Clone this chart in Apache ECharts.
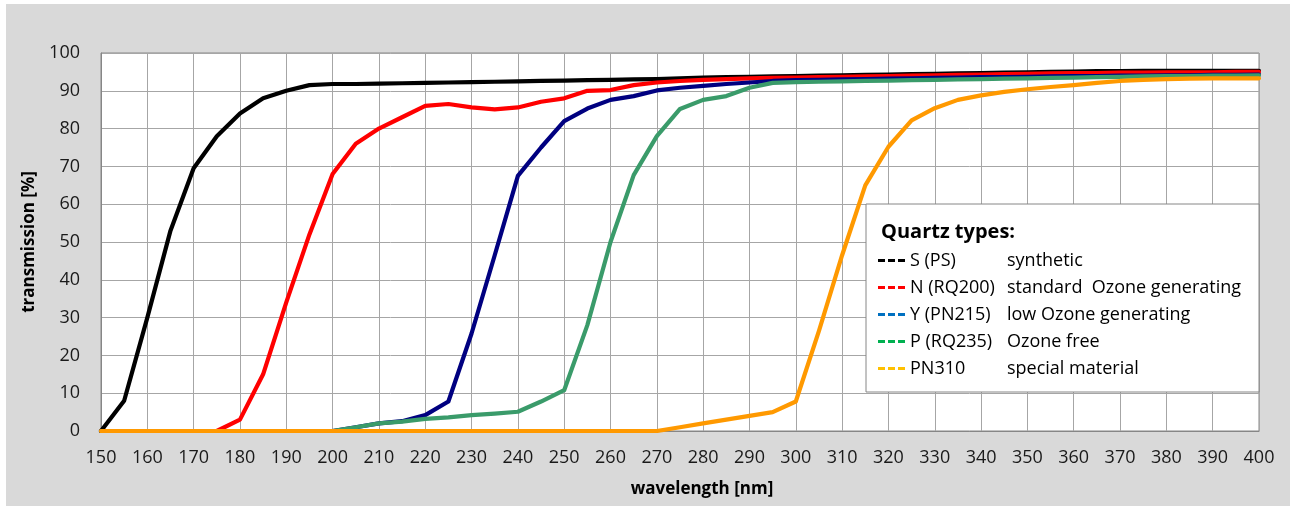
<!DOCTYPE html>
<html>
<head>
<meta charset="utf-8">
<script src="https://cdn.jsdelivr.net/npm/echarts@6/dist/echarts.min.js"></script>
<style>
  html, body { margin: 0; padding: 0; background: #ffffff; }
  #bg { position: absolute; left: 6px; top: 4px; width: 1284px; height: 502px; background: #d9d9d9; }
  #chart { position: absolute; left: 0; top: 0; width: 1290px; height: 506px; }
</style>
</head>
<body>
<div id="bg"></div>
<div id="chart"></div>
<script>
// wavelengths in nm, 5 nm steps
const wavelengths = [150,155,160,165,170,175,180,185,190,195,200,205,210,215,220,225,230,235,240,245,250,255,260,265,270,275,280,285,290,295,300,305,310,315,320,325,330,335,340,345,350,355,360,365,370,375,380,385,390,395,400];

const seriesNames = ['S (PS)', 'N (RQ200)', 'Y (PN215)', 'P (RQ235)', 'PN310'];
const seriesDescriptions = ['synthetic', 'standard  Ozone generating', 'low Ozone generating', 'Ozone free', 'special material'];

const valuesS = [0,8,30,53,69.5,78,84,88,90,91.5,91.8,91.8,91.9,92,92.1,92.2,92.3,92.4,92.5,92.6,92.7,92.8,92.9,93,93.1,93.3,93.5,93.6,93.7,93.8,93.9,94,94.1,94.2,94.3,94.4,94.5,94.6,94.7,94.8,94.9,95,95.1,95.2,95.2,95.3,95.3,95.3,95.3,95.3,95.3];
const valuesN = [0,0,0,0,0,0,3,15,34,52,68,76,80,83,86,86.5,85.6,85.1,85.6,87.1,88,90,90.2,91.5,92.2,92.6,92.9,93.1,93.3,93.4,93.5,93.6,93.7,93.8,93.9,94,94.1,94.2,94.3,94.4,94.5,94.6,94.7,94.7,94.8,94.8,94.9,94.9,94.9,95,95];
const valuesY = [0,0,0,0,0,0,0,0,0,0,0,1,2,2.6,4.2,7.8,25.8,46.5,67.5,75,82,85.3,87.6,88.6,90.1,90.8,91.3,91.8,92.2,92.6,92.8,92.9,93,93.1,93.2,93.3,93.4,93.5,93.6,93.6,93.7,93.8,93.9,93.9,94,94,94.1,94.1,94.2,94.2,94.3];
const valuesP = [0,0,0,0,0,0,0,0,0,0,0,1,2,2.5,3.2,3.6,4.2,4.6,5.1,7.8,10.8,28,50,67.7,78,85.2,87.6,88.6,90.8,92.1,92.3,92.4,92.5,92.6,92.7,92.8,92.9,93,93.1,93.2,93.3,93.4,93.5,93.6,93.7,93.8,93.9,93.9,94,94,94.1];
const valuesPN310 = [0,0,0,0,0,0,0,0,0,0,0,0,0,0,0,0,0,0,0,0,0,0,0,0,0,1,2,3,4,5,7.8,26.5,46.5,65,75.2,82.2,85.4,87.6,88.8,89.7,90.4,91,91.5,92.1,92.6,92.9,93.1,93.2,93.3,93.3,93.3];

const allValues = [valuesS, valuesN, valuesY, valuesP, valuesPN310];
const lineColors = ['#000000', '#ff0000', '#000080', '#3a9b6a', '#ff9900'];
const legendColors = ['#000000', '#ff0000', '#0070c0', '#00b050', '#ffc000'];

const FONT = "'Open Sans', 'DejaVu Sans', sans-serif";

const chart = echarts.init(document.getElementById('chart'), null, { renderer: 'canvas' });

const series = seriesNames.map((name, i) => ({
  name: name,
  type: 'line',
  symbol: 'none',
  smooth: false,
  data: wavelengths.map((w, j) => [w, allValues[i][j]]),
  lineStyle: { color: lineColors[i], width: 4.2, join: 'round', cap: 'round' },
  itemStyle: { color: lineColors[i] },
  emphasis: { disabled: true },
  animation: false
}));

const descMap = {};
seriesNames.forEach((n, i) => { descMap[n] = seriesDescriptions[i]; });

const option = {
  backgroundColor: 'transparent',
  animation: false,
  textStyle: { fontFamily: FONT },
  title: {
    text: 'Quartz types:',
    left: 876,
    top: 217,
    textStyle: { fontFamily: FONT, fontSize: 20, fontWeight: 'bold', color: '#000000' },
    z: 10
  },
  grid: {
    left: 101, right: 31, top: 53, bottom: 75,
    show: true, backgroundColor: '#ffffff', borderColor: '#868686', borderWidth: 1
  },
  legend: {
    orient: 'vertical',
    left: 866,
    top: 204,
    padding: [46, 18, 13, 12],
    backgroundColor: '#ffffff',
    borderColor: '#868686',
    borderWidth: 1,
    itemGap: 6,
    itemWidth: 27,
    itemHeight: 3,
    icon: 'path://M0,0h7v3h-7z M10,0h7v3h-7z M20,0h7v3h-7z',
    selectedMode: false,
    data: seriesNames.map((n, i) => ({ name: n, itemStyle: { color: legendColors[i] } })),
    formatter: function (name) { return '{a|' + name + '}{b|' + descMap[name] + '}'; },
    textStyle: {
      fontFamily: FONT, fontSize: 18, color: '#000000', lineHeight: 21,
      rich: {
        a: { fontFamily: FONT, fontSize: 18, color: '#000000', width: 97, lineHeight: 21 },
        b: { fontFamily: FONT, fontSize: 18, color: '#000000', lineHeight: 21 }
      }
    },
    z: 5
  },
  xAxis: {
    type: 'value',
    min: 150, max: 400, interval: 10,
    name: 'wavelength [nm]',
    nameLocation: 'middle',
    nameGap: 50,
    nameTextStyle: { fontFamily: FONT, fontSize: 17, fontWeight: 'bold', color: '#000000', padding: [0, 0, 0, 44] },
    axisLine: { show: true, lineStyle: { color: '#868686', width: 1 } },
    axisTick: { show: false },
    axisLabel: { fontFamily: FONT, fontSize: 18, color: '#1a1a1a', margin: 18 },
    splitLine: { show: true, lineStyle: { color: '#a6a6a6', width: 1 } }
  },
  yAxis: {
    type: 'value',
    min: 0, max: 100, interval: 10,
    name: 'transmission [%]',
    nameLocation: 'middle',
    nameGap: 63,
    nameTextStyle: { fontFamily: FONT, fontSize: 17, fontWeight: 'bold', color: '#000000' },
    axisLine: { show: true, lineStyle: { color: '#868686', width: 1 } },
    axisTick: { show: false },
    axisLabel: { fontFamily: FONT, fontSize: 18, color: '#1a1a1a', margin: 21 },
    splitLine: { show: true, lineStyle: { color: '#a6a6a6', width: 1 } }
  },
  series: series
};

chart.setOption(option);
</script>
</body>
</html>
